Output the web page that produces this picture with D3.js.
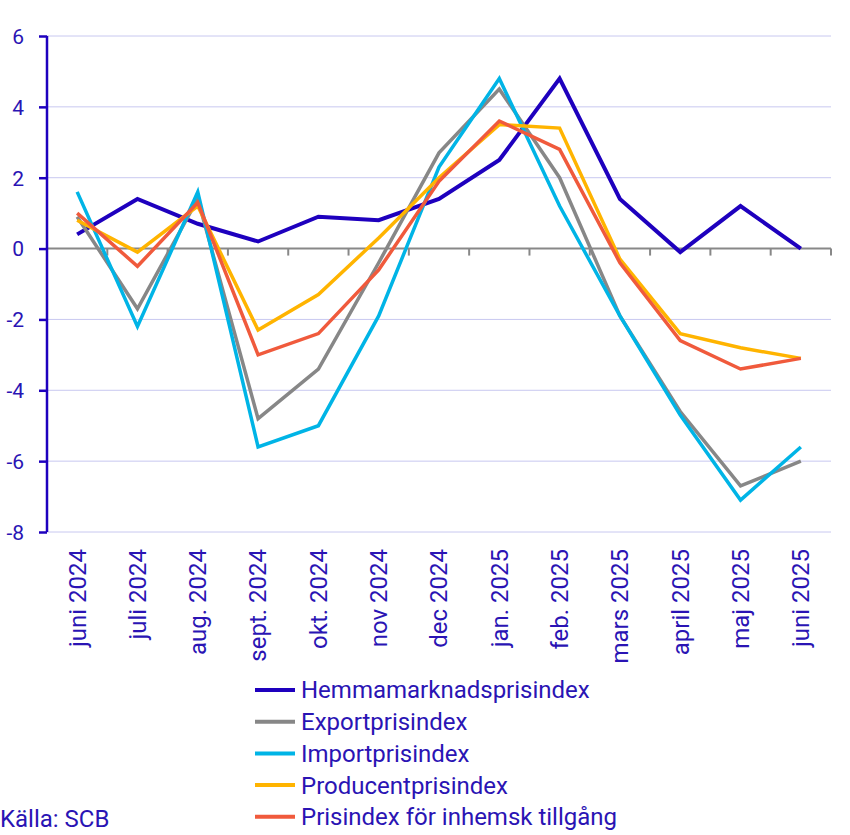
<!DOCTYPE html>
<html>
<head>
<meta charset="utf-8">
<script src="https://cdn.jsdelivr.net/npm/d3@7"></script>
<style>
  html, body { margin: 0; padding: 0; background: #fff; }
  svg { display: block; font-family: Roboto, "Noto Sans", sans-serif; }
</style>
</head>
<body>
<svg id="chart" width="850" height="835"></svg>
<script>
const categories = ["juni 2024","juli 2024","aug. 2024","sept. 2024","okt. 2024","nov 2024","dec 2024","jan. 2025","feb. 2025","mars 2025","april 2025","maj 2025","juni 2025"];
const hemmamarknad = [0.4, 1.4, 0.7, 0.2, 0.9, 0.8, 1.4, 2.5, 4.8, 1.4, -0.1, 1.2, 0.0];
const exportpris   = [0.9, -1.7, 1.4, -4.8, -3.4, -0.4, 2.7, 4.5, 2.0, -1.9, -4.6, -6.7, -6.0];
const importpris   = [1.6, -2.2, 1.6, -5.6, -5.0, -1.9, 2.3, 4.8, 1.2, -1.9, -4.7, -7.1, -5.6];
const producentpris= [0.8, -0.1, 1.2, -2.3, -1.3, 0.3, 2.0, 3.5, 3.4, -0.3, -2.4, -2.8, -3.1];
const inhemsk      = [1.0, -0.5, 1.3, -3.0, -2.4, -0.6, 1.9, 3.6, 2.8, -0.4, -2.6, -3.4, -3.1];
const seriesNames  = ["Hemmamarknadsprisindex","Exportprisindex","Importprisindex","Producentprisindex","Prisindex för inhemsk tillgång"];
const seriesColors = ["#1e00be","#878787","#00b4e6","#ffb400","#f05a3c"];
const yTicks = [6, 4, 2, 0, -2, -4, -6, -8];
const yTickLabels = ["6", "4", "2", "0", "-2", "-4", "-6", "-8"];
const source = "Källa: SCB";

const seriesValues = [hemmamarknad, exportpris, importpris, producentpris, inhemsk];
const textColor = "#2a14b4";
const axisColor = "#1e00be";

const svg = d3.select("#chart");
const mLeft = 47, mRight = 831, mTop = 36, mBottom = 532;

const x = d3.scaleBand().domain(categories).range([mLeft, mRight]).padding(0);
const y = d3.scaleLinear().domain([-8, 6]).range([mBottom, mTop]);

// gridlines
svg.append("g").selectAll("line")
  .data(yTicks.filter(d => d !== 0))
  .join("line")
  .attr("x1", mLeft).attr("x2", mRight)
  .attr("y1", d => y(d)).attr("y2", d => y(d))
  .attr("stroke", "#c8c8f0").attr("stroke-width", 1);

// zero line with category boundary ticks
const zeroG = svg.append("g");
zeroG.append("line")
  .attr("x1", mLeft).attr("x2", mRight)
  .attr("y1", y(0)).attr("y2", y(0))
  .attr("stroke", "#888888").attr("stroke-width", 2);
const boundaries = categories.map(c => x(c)).concat([mRight]);
zeroG.selectAll("line.tk").data(boundaries.slice(1)).join("line")
  .attr("class","tk")
  .attr("x1", d => d).attr("x2", d => d)
  .attr("y1", y(0)).attr("y2", y(0) + 7)
  .attr("stroke", "#888888").attr("stroke-width", 2);

// left axis
const yAxis = d3.axisLeft(y).tickValues(yTicks).tickSize(8).tickPadding(15)
  .tickFormat((d, i) => yTickLabels[i]);
const yAxisG = svg.append("g").attr("transform", `translate(${mLeft},0)`).call(yAxis);
yAxisG.select(".domain").attr("stroke", axisColor).attr("stroke-width", 2.5)
  .attr("d", `M0,${mTop}V${mBottom}`);
yAxisG.selectAll(".tick line").attr("stroke", axisColor).attr("stroke-width", 2.5);
yAxisG.selectAll(".tick text")
  .attr("fill", textColor).attr("font-size", 21)
  .attr("font-family", "Roboto, sans-serif")
  .attr("dy", "0.35em");

// x axis labels (rotated)
const xAxis = d3.axisBottom(x).tickSize(0).tickPadding(0);
const xAxisG = svg.append("g").attr("transform", `translate(0,${mBottom})`).call(xAxis);
xAxisG.select(".domain").remove();
xAxisG.selectAll(".tick text")
  .attr("fill", textColor).attr("font-size", 24)
  .attr("font-family", "Roboto, sans-serif")
  .attr("text-anchor", "end")
  .attr("transform", "rotate(-90)")
  .attr("x", -17).attr("y", 0).attr("dy", "0.35em");

// lines
const line = d3.line()
  .x((d, i) => x(categories[i]) + x.bandwidth() / 2)
  .y(d => y(d));

svg.append("g").selectAll("path")
  .data(seriesValues)
  .join("path")
  .attr("d", d => line(d))
  .attr("fill", "none")
  .attr("stroke", (d, i) => seriesColors[i])
  .attr("stroke-width", (d, i) => i === 0 ? 4 : 3.5)
  .attr("stroke-linejoin", "miter")
  .attr("stroke-linecap", "butt");

// legend
const legend = svg.append("g");
const legRows = legend.selectAll("g").data(seriesNames).join("g")
  .attr("transform", (d, i) => `translate(255,${690 + i * 31.7})`);
legRows.append("line")
  .attr("x1", 0).attr("x2", 40).attr("y1", 0).attr("y2", 0)
  .attr("stroke", (d, i) => seriesColors[i]).attr("stroke-width", 4);
legRows.append("text")
  .attr("x", 46).attr("y", 0).attr("dy", "0.35em")
  .attr("fill", textColor).attr("font-size", 24)
  .attr("font-family", "Roboto, sans-serif")
  .text(d => d);

// source
svg.append("text")
  .attr("x", 0).attr("y", 819).attr("dy", "0.35em")
  .attr("fill", textColor).attr("font-size", 24)
  .attr("font-family", "Roboto, sans-serif")
  .text(source);
</script>
</body>
</html>
